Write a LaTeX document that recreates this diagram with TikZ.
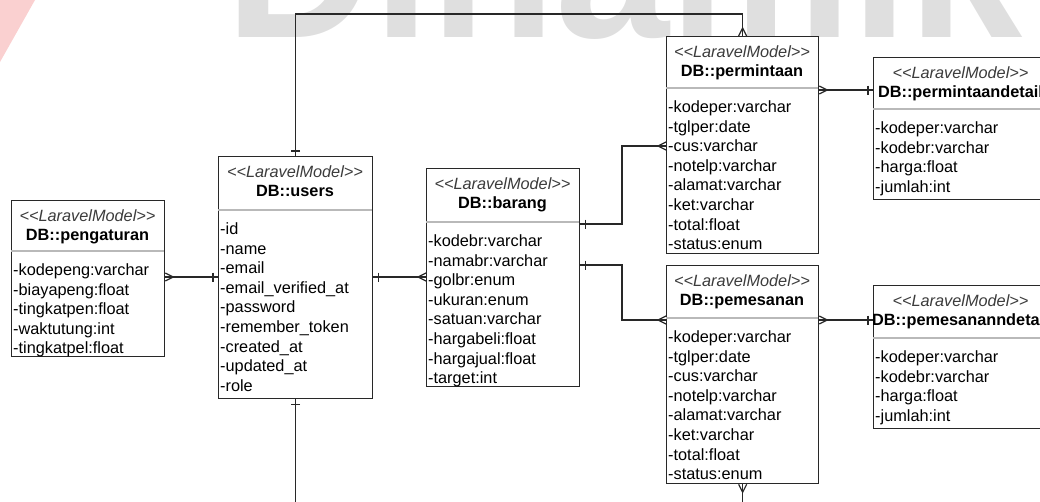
\documentclass[tikz,border=0pt]{standalone}
\usepackage{fontspec}
\setmainfont{Liberation Sans}
\usetikzlibrary{calc}
\definecolor{wmgray}{RGB}{223,223,223}
\definecolor{wmred}{RGB}{250,208,208}
\definecolor{linec}{RGB}{40,40,40}
\definecolor{sepc}{RGB}{185,185,185}
\definecolor{stc}{RGB}{60,60,60}
\tikzset{
  entity/.style={draw=linec, line width=1.3pt, fill=white, inner sep=0pt, rectangle},
  sepline/.style={draw=sepc, line width=1.3pt},
  stereo/.style={font=\fontsize{16.3}{19.6}\selectfont\itshape, text=stc, inner sep=0pt},
  ename/.style={font=\fontsize{16.3}{19.6}\selectfont\bfseries, inner sep=0pt},
  attr/.style={font=\fontsize{16.3}{19.6}\selectfont, inner sep=0pt},
  conn/.style={draw=linec, line width=1.2pt},
  wmtext/.style={font=\fontsize{205}{205}\selectfont\bfseries, text=wmgray, inner sep=0pt},
}
% entity: #1 name, #2 left, #3 top, #4 right, #5 separator, #6 bottom, #7 title, #8 rows
\newcommand\erentity[8]{%
  \node[entity, minimum width={(#4-#2)*1pt}, minimum height={(#6-#3)*1pt}, anchor=north west] (#1) at (#2,#3) {};
  \draw[sepline] (#2,#5) -- (#4,#5);
  \node[stereo, anchor=base] (#1-st) at ({(#2+#4)/2},{#3+21}) {<\kern0pt<LaravelModel>\kern0pt>};
  \node[ename, anchor=base] (#1-nm) at ({(#2+#4)/2},{#3+40}) {#7};
  \foreach \rowtext [count=\i] in {#8} {\node[attr, anchor=base west] (#1-\i) at ({#2+2},{#5+24.5+(\i-1)*19.6}) {\rowtext};}
}
\newcommand\ercrowR[1]{\draw[conn] ([yshift=4pt]#1) -- ([xshift=8pt]#1) -- ([yshift=-4pt]#1);}
\newcommand\ercrowL[1]{\draw[conn] ([yshift=4pt]#1) -- ([xshift=-8pt]#1) -- ([yshift=-4pt]#1);}
\newcommand\ercrowU[1]{\draw[conn] ([xshift=4pt]#1) -- ([yshift=8pt]#1) -- ([xshift=-4pt]#1);}
\newcommand\ercrowD[1]{\draw[conn] ([xshift=4pt]#1) -- ([yshift=-8pt]#1) -- ([xshift=-4pt]#1);}
\newcommand\erbarR[1]{\draw[conn] ([xshift=5pt,yshift=4.5pt]#1) -- ([xshift=5pt,yshift=-4.5pt]#1);}
\newcommand\erbarL[1]{\draw[conn] ([xshift=-5pt,yshift=4.5pt]#1) -- ([xshift=-5pt,yshift=-4.5pt]#1);}
\newcommand\erbarU[1]{\draw[conn] ([yshift=5pt,xshift=4.5pt]#1) -- ([yshift=5pt,xshift=-4.5pt]#1);}
\newcommand\erbarD[1]{\draw[conn] ([yshift=-5pt,xshift=4.5pt]#1) -- ([yshift=-5pt,xshift=-4.5pt]#1);}

\begin{document}
\begin{tikzpicture}[x=1pt,y=-1pt]
\useasboundingbox (0,0) rectangle (1040,501);
\clip (0,0) rectangle (1040,501);
% watermark
\fill[wmred] (0,0) -- (35,0) -- (0,62) -- cycle;
\node[wmtext, anchor=base west] (wm) at (225,37) {Dinamik};

% entities
\erentity{peng}{11}{200}{164}{251}{356}{DB::pengaturan}{-kodepeng:varchar,-biayapeng:float,-tingkatpen:float,-waktutung:int,-tingkatpel:float}
\erentity{users}{218}{156}{372}{210}{398}{DB::users}{-id,-name,-email,-email\_verified\_at,-password,-remember\_token,-created\_at,-updated\_at,-role}
\erentity{barang}{426}{168}{579}{222}{386}{DB::barang}{-kodebr:varchar,-namabr:varchar,-golbr:enum,-ukuran:enum,-satuan:varchar,-hargabeli:float,-hargajual:float,-target:int}
\erentity{perm}{666}{36}{818}{88}{253}{DB::permintaan}{-kodeper:varchar,-tglper:date,-cus:varchar,-notelp:varchar,-alamat:varchar,-ket:varchar,-total:float,-status:enum}
\erentity{pem}{666}{265}{818}{318}{483}{DB::pemesanan}{-kodeper:varchar,-tglper:date,-cus:varchar,-notelp:varchar,-alamat:varchar,-ket:varchar,-total:float,-status:enum}
\erentity{pdet}{873}{57}{1048}{109}{199}{DB::permintaandetail}{-kodeper:varchar,-kodebr:varchar,-harga:float,-jumlah:int}
\erentity{mdet}{873}{285}{1048}{338}{428}{DB::pemesananndetail}{-kodeper:varchar,-kodebr:varchar,-harga:float,-jumlah:int}

% connector endpoints
\coordinate (top1) at (users.north |- 0,14);
\coordinate (top2) at (perm.north |- 0,14);
\coordinate (ubot) at (users.south |- 0,505);
\coordinate (pa) at (peng.east |- 0,277);
\coordinate (ua) at (users.west |- 0,277);
\coordinate (ub) at (users.east |- 0,277);
\coordinate (ba) at (barang.west |- 0,277);
\coordinate (bb) at (barang.east |- 0,224);
\coordinate (bc) at (barang.east |- 0,265);
\coordinate (bend1) at (622,224);
\coordinate (bend2) at (622,265);
\coordinate (pma) at (perm.west |- 0,146);
\coordinate (pea) at (pem.west |- 0,320);
\coordinate (pmb) at (perm.east |- 0,90);
\coordinate (pda) at (pdet.west |- 0,90);
\coordinate (peb) at (pem.east |- 0,320);
\coordinate (mda) at (mdet.west |- 0,320);
\coordinate (pbot) at (pem.south |- 0,505);

% connectors
\draw[conn] (users.north) -- (top1) -- (top2) -- (perm.north);
\erbarU{users.north} \ercrowU{perm.north}
\draw[conn] (users.south) -- (ubot);
\erbarD{users.south}
\draw[conn] (pa) -- (ua);
\ercrowR{pa} \erbarL{ua}
\draw[conn] (ub) -- (ba);
\erbarR{ub} \ercrowL{ba}
\draw[conn] (bb) -- (bend1) |- (pma);
\erbarR{bb} \ercrowL{pma}
\draw[conn] (bc) -- (bend2) |- (pea);
\erbarR{bc} \ercrowL{pea}
\draw[conn] (pmb) -- (pda);
\ercrowR{pmb} \erbarL{pda}
\draw[conn] (peb) -- (mda);
\ercrowR{peb} \erbarL{mda}
\draw[conn] (pem.south) -- (pbot);
\ercrowD{pem.south}
\end{tikzpicture}
\end{document}
